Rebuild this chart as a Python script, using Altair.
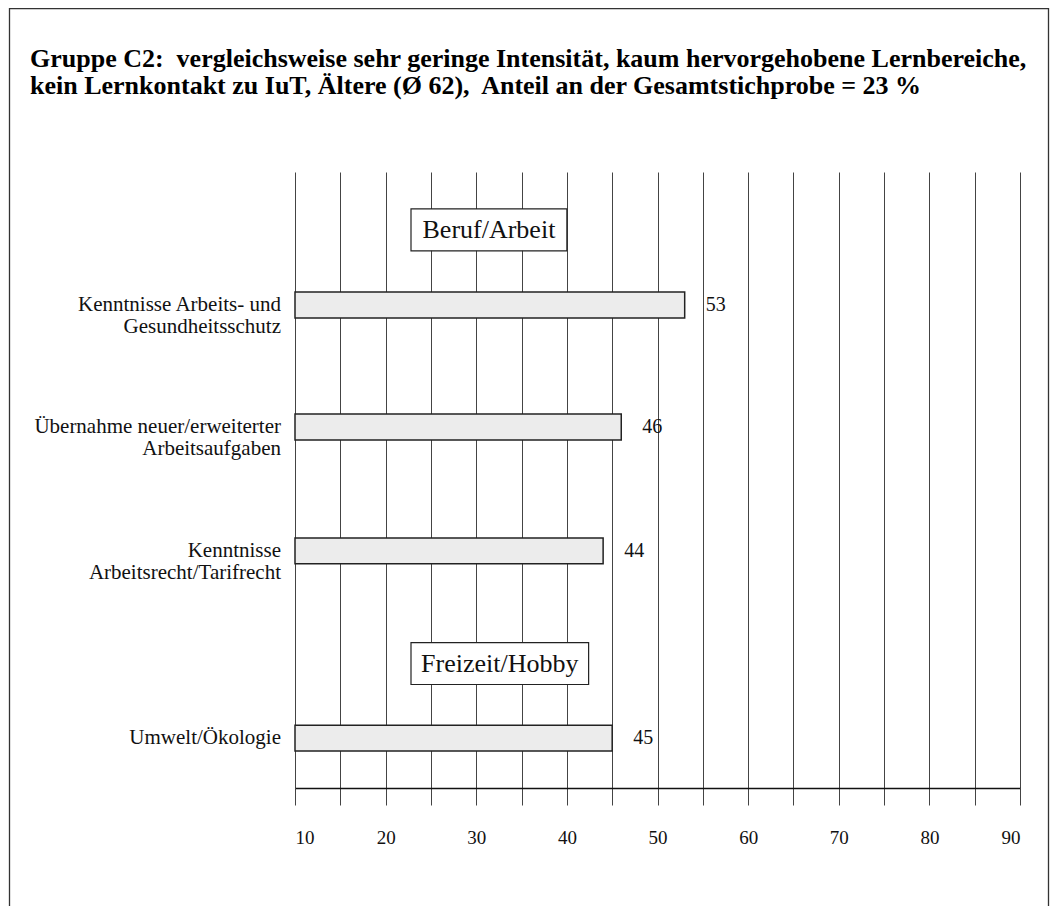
import altair as alt
import pandas as pd

# ---- data ----
categories = [
    "Kenntnisse Arbeits- und\nGesundheitsschutz",
    "Übernahme neuer/erweiterter\nArbeitsaufgaben",
    "Kenntnisse\nArbeitsrecht/Tarifrecht",
    "Umwelt/Ökologie",
]
values = [53, 46, 44, 45]
row_pos = [2.16, 4.14, 6.15, 9.19]          # vertical slot of each bar (0 = top, 10 = bottom)

headers = ["Beruf/Arbeit", "Freizeit/Hobby"]
header_pos = [0.94, 7.98]
header_x0 = [22.8, 22.8]
header_x1 = [40.0, 42.4]

title_lines = [
    "Gruppe C2:\u00a0 vergleichsweise sehr geringe Intensität, kaum hervorgehobene Lernbereiche,",
    "kein Lernkontakt zu IuT, Ältere (Ø 62),\u00a0 Anteil an der Gesamtstichprobe = 23 %",
]
tick_values = list(range(10, 95, 5))

FONT = "Liberation Serif"
W, H = 725, 616
BAR_HALF = 0.21
BOX_HALF = 0.34

bars = pd.DataFrame({
    "cat": categories,
    "value": values,
    "pos": row_pos,
})
bars["start"] = 10
bars["y0"] = bars["pos"] - BAR_HALF
bars["y1"] = bars["pos"] + BAR_HALF

hdr = pd.DataFrame({"label": headers, "pos": header_pos, "x0": header_x0, "x1": header_x1})
hdr["y0"] = hdr["pos"] - BOX_HALF
hdr["y1"] = hdr["pos"] + BOX_HALF
hdr["xc"] = (hdr["x0"] + hdr["x1"]) / 2

xs = alt.Scale(domain=[10, 90], nice=False, zero=False)
ys = alt.Scale(domain=[0, 10], reverse=True, nice=False, zero=False)

bar_layer = alt.Chart(bars).mark_rect(
    fill="#ececec", stroke="#222", strokeWidth=1.5
).encode(
    x=alt.X("start:Q", scale=xs, axis=alt.Axis(
        values=tick_values, grid=True, gridColor="#444", gridWidth=1,
        tickSize=17, tickColor="#444", tickWidth=1,
        domainColor="#111", domainWidth=1.5,
        labelExpr="datum.value % 10 == 0 ? datum.label : ''",
        labelFont=FONT, labelFontSize=19, labelColor="#111", labelPadding=23,
        title=None)),
    x2="value:Q",
    y=alt.Y("y0:Q", scale=ys, axis=None),
    y2="y1:Q",
)

value_text = alt.Chart(bars).mark_text(
    align="left", baseline="middle", dx=21, font=FONT, fontSize=20, color="#111"
).encode(x=alt.X("value:Q", scale=xs), y=alt.Y("pos:Q", scale=ys), text="value:Q")

cat_text = alt.Chart(bars).mark_text(
    align="right", baseline="middle", font=FONT, fontSize=21, color="#111",
    lineBreak="\n", lineHeight=22
).encode(x=alt.value(-14), y=alt.Y("pos:Q", scale=ys), text="cat:N")

hdr_box = alt.Chart(hdr).mark_rect(fill="white", stroke="#222", strokeWidth=1.2).encode(
    x=alt.X("x0:Q", scale=xs), x2="x1:Q",
    y=alt.Y("y0:Q", scale=ys), y2="y1:Q",
)
hdr_text = alt.Chart(hdr).mark_text(
    align="center", baseline="middle", font=FONT, fontSize=26, color="#111"
).encode(x=alt.X("xc:Q", scale=xs), y=alt.Y("pos:Q", scale=ys), text="label:N")

title_df = pd.DataFrame({"t": ["\n".join(title_lines)]})
title_text = alt.Chart(title_df).mark_text(
    align="left", baseline="alphabetic", font=FONT, fontSize=26, fontWeight="bold",
    color="#000", lineBreak="\n", lineHeight=27
).encode(x=alt.value(-265), y=alt.value(-105), text="t:N")

frame_df = pd.DataFrame({"f": [1]})
frame = alt.Chart(frame_df).mark_rect(fill=None, stroke="#333", strokeWidth=1.3).encode(
    x=alt.value(-285.5), x2=alt.value(753.5), y=alt.value(-163.5), y2=alt.value(780)
)

chart = alt.layer(
    frame, bar_layer, hdr_box, hdr_text, value_text, cat_text, title_text
).properties(
    width=W, height=H,
    autosize=alt.AutoSizeParams(type="none"),
    padding={"left": 287, "top": 164, "right": 30, "bottom": 118},
    background="white",
).configure_view(stroke=None)

chart.save("out.html", embed_options={"renderer": "svg", "actions": False})
